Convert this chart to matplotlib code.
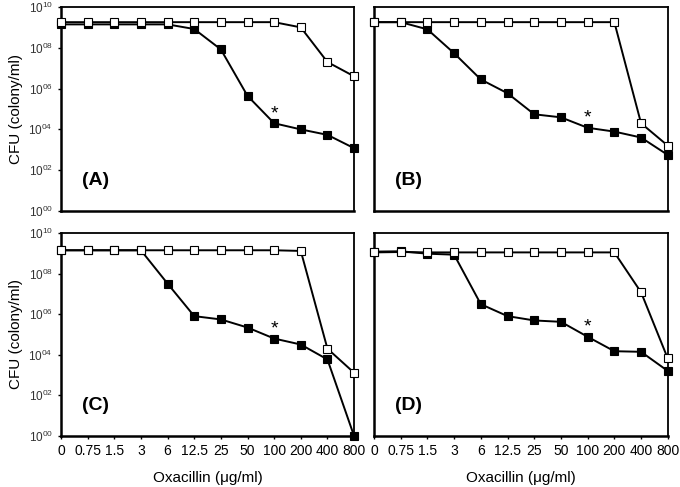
import numpy as np
import matplotlib.pyplot as plt

plt.rcParams['font.family'] = ['Liberation Sans', 'DejaVu Sans']
plt.rcParams['mathtext.fontset'] = 'custom'
plt.rcParams['mathtext.rm'] = 'Liberation Sans'
plt.rcParams['mathtext.it'] = 'Liberation Sans'

# --- Data (CFU/ml) ---
doses = ['0', '0.75', '1.5', '3', '6', '12.5', '25', '50', '100', '200', '400', '800']

a_open = [1.8e9, 1.8e9, 1.8e9, 1.8e9, 1.8e9, 1.8e9, 1.8e9, 1.8e9, 1.8e9, 1.0e9, 2.0e7, 4.0e6]
a_fill = [1.4e9, 1.4e9, 1.4e9, 1.4e9, 1.4e9, 8.3e8, 8.3e7, 4.4e5, 2.0e4, 1.0e4, 5.4e3, 1.2e3]

b_open = [1.8e9, 1.8e9, 1.8e9, 1.8e9, 1.8e9, 1.8e9, 1.8e9, 1.8e9, 1.8e9, 1.8e9, 2.0e4, 1.6e3]
b_fill = [1.8e9, 1.8e9, 8.0e8, 5.4e7, 2.8e6, 5.9e5, 5.5e4, 3.9e4, 1.2e4, 7.8e3, 4.0e3, 5.6e2]

c_open = [1.4e9, 1.4e9, 1.4e9, 1.4e9, 1.4e9, 1.4e9, 1.4e9, 1.4e9, 1.4e9, 1.3e9, 2.0e4, 1.3e3]
c_fill = [1.4e9, 1.4e9, 1.4e9, 1.4e9, 3.2e7, 8.0e5, 5.5e5, 2.2e5, 6.3e4, 3.2e4, 5.9e3, 1.0e0]

d_open = [1.1e9, 1.15e9, 1.1e9, 1.1e9, 1.1e9, 1.1e9, 1.1e9, 1.1e9, 1.1e9, 1.1e9, 1.2e7, 6.6e3]
d_fill = [1.2e9, 1.25e9, 9.5e8, 8.5e8, 3.1e6, 8.0e5, 4.9e5, 4.2e5, 7.7e4, 1.5e4, 1.4e4, 1.6e3]

panels = [('(A)', a_open, a_fill), ('(B)', b_open, b_fill),
          ('(C)', c_open, c_fill), ('(D)', d_open, d_fill)]

# axes boxes in figure fractions [left, bottom, width, height]
boxes = [[0.0897, 0.5667, 0.431, 0.419], [0.550, 0.5667, 0.432, 0.419],
         [0.0897, 0.1047, 0.431, 0.417], [0.550, 0.1047, 0.432, 0.417]]

fig = plt.figure(figsize=(6.8, 4.87), dpi=100)
x = np.arange(len(doses))
ytick_vals = [10.0 ** k for k in range(0, 11, 2)]
ytick_labels = [r'$10^{%02d}$' % k for k in range(0, 11, 2)]

for i, (lab, yo, yf) in enumerate(panels):
    ax = fig.add_axes(boxes[i])
    ax.plot(x, yf, '-s', color='black', lw=1.4, ms=5.8, mfc='black',
            mec='black', mew=0.8, clip_on=False, zorder=3)
    ax.plot(x, yo, '-s', color='black', lw=1.4, ms=5.8, mfc='white',
            mec='black', mew=0.8, clip_on=False, zorder=4)
    ax.set_yscale('log')
    ax.set_ylim(1, 1e10)
    ax.set_xlim(0, len(doses) - 1)
    ax.minorticks_off()
    ax.set_yticks(ytick_vals)
    ax.set_xticks(x)
    ax.tick_params(length=2.5, width=1, direction='out')
    for s in ['left', 'bottom']:
        ax.spines[s].set_linewidth(1.8)
    for s in ['top', 'right']:
        ax.spines[s].set_linewidth(1.3)
    ax.text(0.07, 0.15, lab, transform=ax.transAxes, fontsize=14,
            fontweight='bold', va='center', ha='left')
    # significance mark above the 100 ug/ml point
    ax.annotate('*', xy=(x[8], yf[8]), xytext=(0, 7), textcoords='offset points',
                fontsize=14, ha='center', va='center')
    if i % 2 == 0:
        ax.set_yticklabels(ytick_labels, fontsize=8.5, color='#333333')
        ax.set_ylabel('CFU (colony/ml)', fontsize=11, labelpad=4)
    else:
        ax.set_yticklabels([])
        ax.tick_params(axis='y', length=0)
    if i >= 2:
        ax.set_xticklabels(doses, fontsize=10)
        ax.set_xlabel('Oxacillin (\u03bcg/ml)', fontsize=11, labelpad=9)
    else:
        ax.set_xticklabels([])
        ax.tick_params(axis='x', length=0)

fig.savefig('out.png', dpi=100)
